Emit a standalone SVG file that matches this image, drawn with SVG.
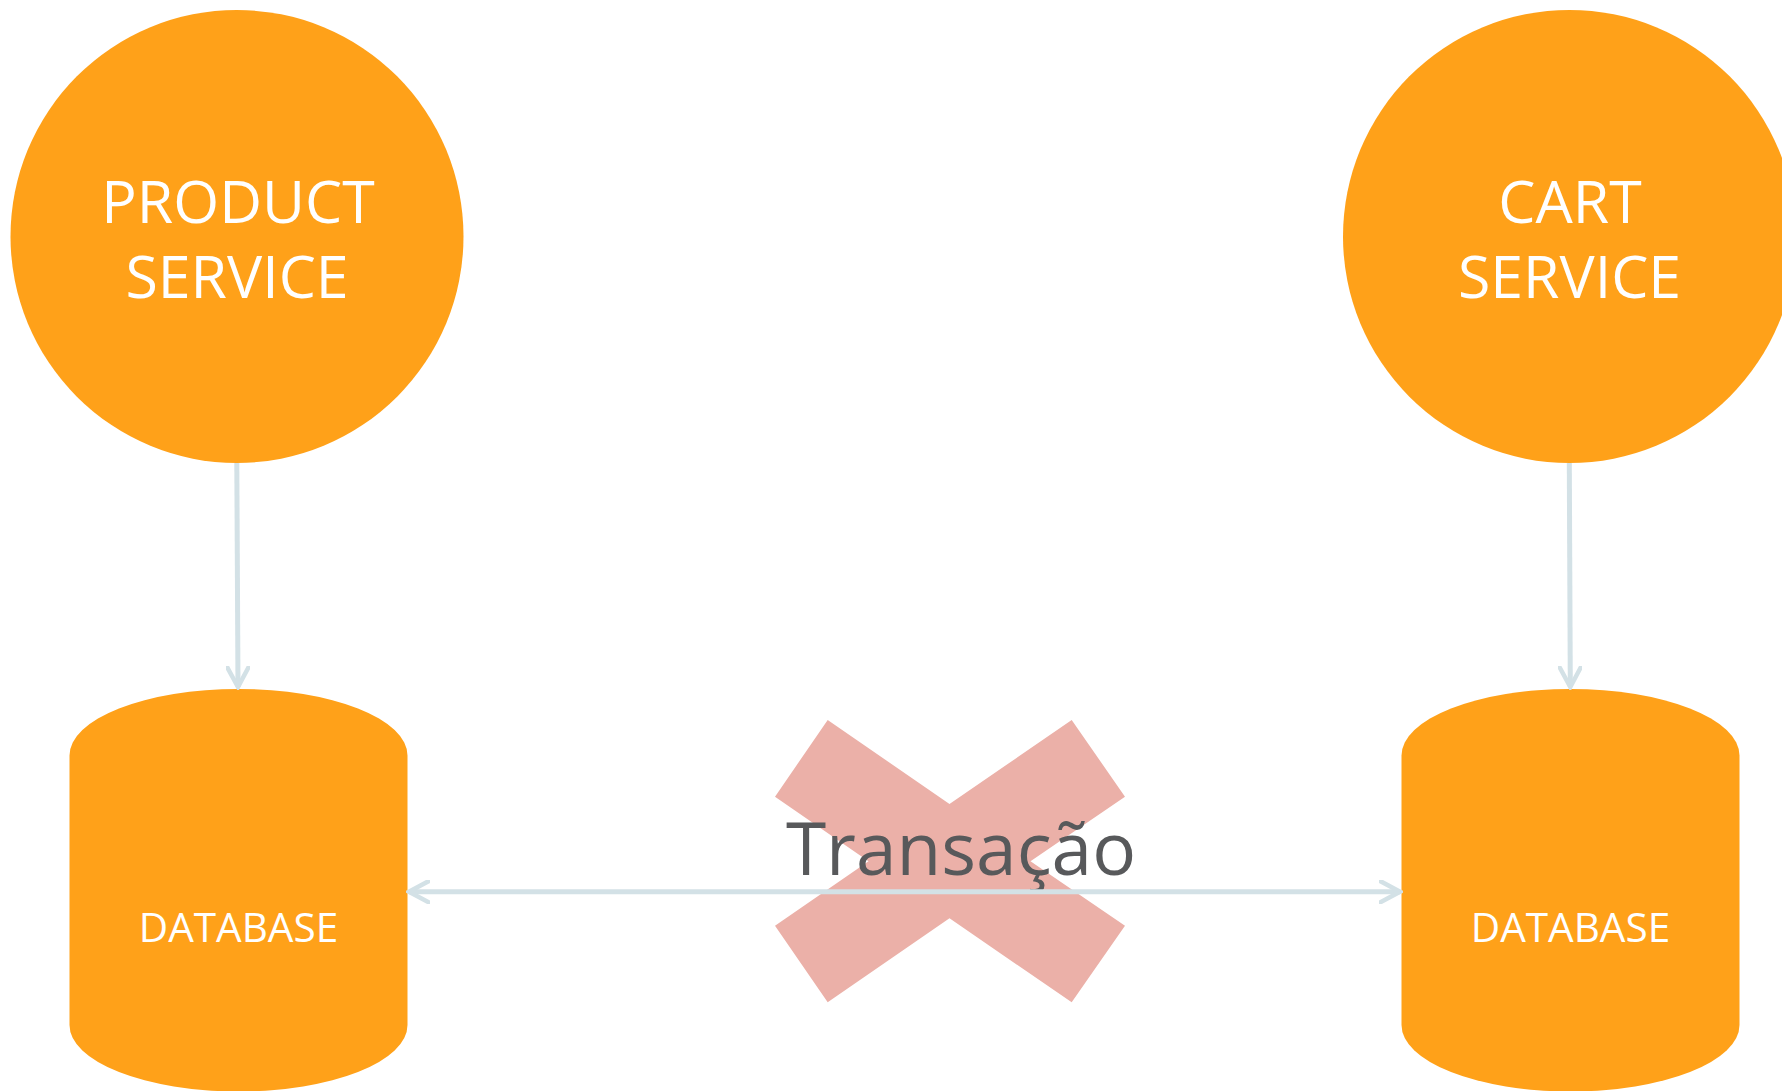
<svg xmlns="http://www.w3.org/2000/svg" width="1782" height="1091" viewBox="0 0 1782 1091">
  <style>
    .svc { fill: #FFA119; }
    .db { fill: #FFA119; }
    .lbl { font-family: "Open Sans", "Liberation Sans", sans-serif; fill: #FFFFFF; text-anchor: middle; }
    .svc-lbl { font-size: 59px; }
    .db-lbl { font-size: 40.5px; }
    .link { stroke: #D3E1E6; stroke-width: 5; fill: none; }
    .tx { font-family: "Open Sans", "Liberation Sans", sans-serif; font-size: 73px; fill: #58595B; text-anchor: middle; }
  </style>
  <defs>
    <marker id="open-arrow" viewBox="0 0 24 24" refX="21" refY="12" markerWidth="24" markerHeight="24" markerUnits="userSpaceOnUse" orient="auto-start-reverse">
      <path d="M1.5,1.5 L21,12 L1.5,22.5" fill="none" stroke="#D3E1E6" stroke-width="4.5" stroke-linecap="round" stroke-linejoin="miter"/>
    </marker>
  </defs>

  <rect width="1782" height="1091" fill="#FFFFFF"/>

  <!-- services -->
  <g id="product-service">
    <circle class="svc" cx="237" cy="236.5" r="226.5"/>
    <text class="lbl svc-lbl" x="238" y="223">PRODUCT</text>
    <text class="lbl svc-lbl" x="237" y="297.5">SERVICE</text>
  </g>
  <g id="cart-service">
    <circle class="svc" cx="1569.5" cy="236.5" r="226.5"/>
    <text class="lbl svc-lbl" x="1570" y="223">CART</text>
    <text class="lbl svc-lbl" x="1569.5" y="297.5">SERVICE</text>
  </g>

  <!-- databases -->
  <g id="product-database">
    <path class="db" d="M69.5,755.5 A169,66.5 0 0 1 407.5,755.5 L407.5,1025 A169,66.5 0 0 1 69.5,1025 Z"/>
    <text class="lbl db-lbl" x="238.5" y="941.5">DATABASE</text>
  </g>
  <g id="cart-database">
    <path class="db" d="M1401.5,755.5 A169,66.5 0 0 1 1739.5,755.5 L1739.5,1025 A169,66.5 0 0 1 1401.5,1025 Z"/>
    <text class="lbl db-lbl" x="1570.5" y="941.5">DATABASE</text>
  </g>

  <!-- blocked transaction -->
  <g id="transaction">
    <polygon fill="#EBB0A8" points="827.7,720 949.5,804 1071.7,720 1125,796.7 1030.5,861.2 1125,925.7 1071.7,1002.3 949.5,918.3 827.7,1002.3 775,925.7 868.5,861.2 775,796.7"/>
    <text class="tx" x="961" y="875">Transação</text>
  </g>

  <!-- connectors -->
  <g id="connectors">
    <line class="link" x1="236.8" y1="463" x2="238" y2="687" marker-end="url(#open-arrow)"/>
    <line class="link" x1="1569.3" y1="463" x2="1570.3" y2="687" marker-end="url(#open-arrow)"/>
    <line class="link" x1="409" y1="891.7" x2="1400" y2="891.7" marker-start="url(#open-arrow)" marker-end="url(#open-arrow)"/>
  </g>
</svg>
